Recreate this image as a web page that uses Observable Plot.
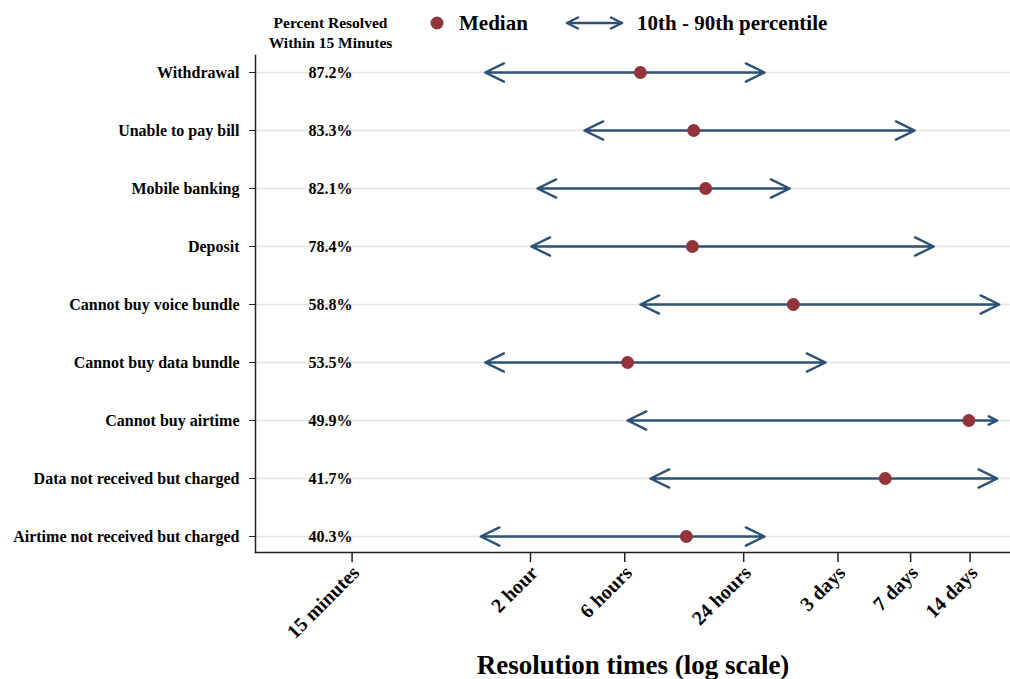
<!DOCTYPE html>
<html><head><meta charset="utf-8">
<script src="https://cdn.jsdelivr.net/npm/d3@7"></script>
<script src="https://cdn.jsdelivr.net/npm/@observablehq/plot@0.6"></script>
<style>
body{margin:0;background:#fff;}
#wrap{position:relative;width:1010px;height:679px;font-family:"Liberation Serif","Times New Roman",serif;font-weight:bold;color:#000;}
#legend{position:absolute;left:0;top:0;width:1010px;height:50px;pointer-events:none;}
.lt{position:absolute;font-size:21px;line-height:21px;top:13px;white-space:nowrap;}
</style></head><body>
<div id="wrap"><div id="chart"></div>
<div id="legend">
  <svg width="1010" height="50" style="position:absolute;left:0;top:0">
    <circle cx="437" cy="23" r="6.5" fill="#93343a"></circle>
    <g stroke="#2c5177" stroke-width="2.4" fill="none" stroke-linecap="round" stroke-linejoin="round">
      <line x1="567" y1="23" x2="622" y2="23"></line>
      <polyline points="578,17.5 567,23 578,28.5"></polyline>
      <polyline points="611,17.5 622,23 611,28.5"></polyline>
    </g>
  </svg>
  <div class="lt" style="left:459px">Median</div>
  <div class="lt" style="left:637px">10th - 90th percentile</div>
</div>
</div>
<script>
const categories = ["Withdrawal","Unable to pay bill","Mobile banking","Deposit","Cannot buy voice bundle","Cannot buy data bundle","Cannot buy airtime","Data not received but charged","Airtime not received but charged"];
const pctResolved = ["87.2%","83.3%","82.1%","78.4%","58.8%","53.5%","49.9%","41.7%","40.3%"];
// hours
const p10 = [1.18, 3.75, 2.17, 2.02, 7.2, 1.18, 6.2, 8.1, 1.12];
const median = [7.2, 13.4, 15.4, 13.2, 42.8, 6.2, 331, 125, 12.3];
const p90 = [30.6, 176, 41, 220, 472, 62.3, 461, 461, 30.6];
const tickValues = [0.25, 2, 6, 24, 72, 168, 336];
const tickLabels = ["15 minutes","2 hour","6 hours","24 hours","3 days","7 days","14 days"];
const headerText = "Percent Resolved\nWithin 15 Minutes";
const xTitle = "Resolution times (log scale)";

const rows = categories.map((c, i) => ({category: c, pct: pctResolved[i], p10: p10[i], med: median[i], p90: p90[i]}));
const ticks = tickValues.map((v, i) => ({value: v, label: tickLabels[i]}));

const arrowOpts = {stroke: "#2c5177", strokeWidth: 2.4, headLength: 13, headAngle: 52, strokeLinecap: "round"};

const chart = Plot.plot({
  width: 1010, height: 679,
  marginTop: 55, marginBottom: 127, marginLeft: 255, marginRight: 0,
  style: {fontFamily: "'Liberation Serif','Times New Roman',serif", fontWeight: "bold", fontSize: "16px", background: "white", color: "black"},
  x: {type: "log", domain: [0.0811, 538]},
  y: {type: "point", domain: categories, range: [71, 536], padding: 0},
  marks: [
    Plot.gridY({stroke: "#e4e4e4", strokeOpacity: 1, strokeWidth: 1.5}),
    Plot.frame({anchor: "left", stroke: "#222", strokeWidth: 1.5}),
    Plot.frame({anchor: "bottom", stroke: "#222", strokeWidth: 1.5}),
    Plot.axisY({tickSize: 6, tickPadding: 10, label: null, fontSize: 16, stroke: "#222"}),
    Plot.axisX({ticks: tickValues, tickFormat: () => "", tickSize: 10, label: null, stroke: "#222", strokeWidth: 1.5}),
    Plot.text(ticks, {x: "value", text: "label", frameAnchor: "bottom", dy: 17, dx: 4, rotate: -45, textAnchor: "end", lineAnchor: "middle", fontSize: 20}),
    Plot.text(rows, {y: "category", text: "pct", frameAnchor: "left", dx: 75, textAnchor: "middle", fontSize: 16}),
    Plot.text([headerText], {text: d => d, frameAnchor: "top-left", dx: 75, dy: -24, textAnchor: "middle", lineAnchor: "middle", lineHeight: 1.3, fontSize: 15.5}),
    Plot.arrow(rows, {x1: "med", x2: "p10", y1: "category", y2: "category", ...arrowOpts}),
    Plot.arrow(rows, {x1: "med", x2: "p90", y1: "category", y2: "category", ...arrowOpts}),
    Plot.dot(rows, {x: "med", y: "category", r: 6.5, fill: "#93343a"}),
    Plot.text([xTitle], {text: d => d, frameAnchor: "bottom", dy: 113, lineAnchor: "middle", fontSize: 27})
  ]
});
document.getElementById("chart").appendChild(chart);
</script>
</body></html>
